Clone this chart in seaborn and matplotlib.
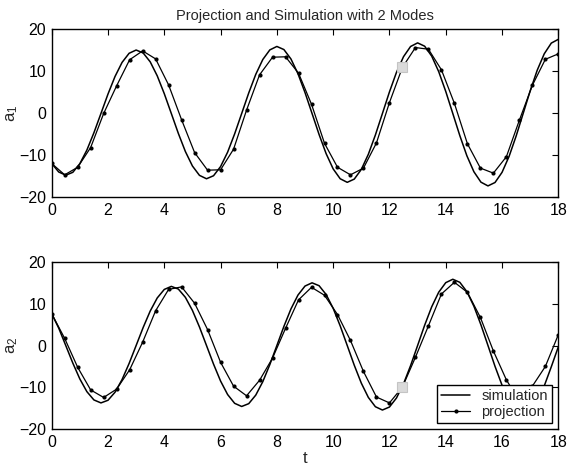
import numpy as np
import pandas as pd
import matplotlib
matplotlib.use("Agg")
import matplotlib.pyplot as plt
import seaborn as sns

# ---------------- data ----------------
t_sim = np.linspace(0, 18, 73)          # simulation sampling grid (0.25 step)
t_proj = np.linspace(0, 18, 40)         # projection sampling grid

sim_a1 = [-11.90, -13.93, -14.69, -14.01, -11.95, -8.71, -4.59, 0.00, 4.62, 8.81,
          12.16, 14.33, 15.11, 14.41, 12.30, 8.96, 4.72, 0.00, -4.75, -9.06,
          -12.50, -14.73, -15.54, -14.82, -12.64, -9.21, -4.85, 0.00, 4.88, 9.31,
          12.85, 15.14, 15.96, 15.22, 12.98, 9.46, 4.98, 0.00, -5.01, -9.56,
          -13.19, -15.54, -16.39, -15.62, -13.32, -9.71, -5.12, 0.00, 5.14, 9.81,
          13.53, 15.95, 16.81, 16.02, 13.67, 9.96, 5.25, 0.00, -5.27, -10.06,
          -13.87, -16.35, -17.24, -16.43, -14.01, -10.21, -5.38, 0.00, 5.40, 10.31,
          14.22, 16.76, 17.66]

proj_a1 = [-11.9, -14.6, -12.8, -8.1, 0.0, 6.6, 12.8, 14.9, 13.0, 6.8,
           -1.5, -9.3, -13.5, -13.4, -8.5, 0.8, 9.2, 13.4, 13.5, 9.6,
           2.2, -7.1, -12.8, -14.6, -13.0, -7.0, 2.6, 11.0, 15.7, 15.3,
           10.4, 2.4, -7.2, -13.0, -14.2, -10.3, -1.6, 6.7, 12.9, 14.2]

sim_a2 = [7.60, 4.15, 0.00, -4.18, -7.98, -11.01, -12.99, -13.70, -13.07, -11.15,
          -8.13, -4.29, 0.00, 4.31, 8.23, 11.36, 13.39, 14.12, 13.48, 11.50,
          8.38, 4.42, 0.00, -4.44, -8.48, -11.70, -13.80, -14.55, -13.88, -11.84,
          -8.63, -4.55, 0.00, 4.57, 8.73, 12.05, 14.20, 14.97, 14.28, 12.18,
          8.88, 4.68, 0.00, -4.71, -8.98, -12.39, -14.61, -15.40, -14.68, -12.52,
          -9.13, -4.81, 0.00, 4.84, 9.23, 12.73, 15.01, 15.82, 15.09, 12.87,
          9.38, 4.94, 0.00, -4.97, -9.48, -13.08, -15.41, -16.25, -15.49, -13.21,
          -9.63, -5.07, -0.30]

proj_a2 = [7.6, 1.7, -5.2, -10.6, -12.4, -10.4, -5.8, 0.8, 8.3, 13.4,
           14.0, 10.1, 3.8, -4.0, -9.7, -12.0, -8.3, -3.0, 4.1, 10.9,
           13.9, 12.0, 7.4, 1.2, -6.2, -12.3, -13.7, -9.9, -2.8, 4.7,
           12.3, 15.1, 12.7, 6.7, -1.3, -8.2, -13.3, -9.7, -5.0, 2.6]

marker_t = [12.44, 12.44]
marker_y = [11.0, -10.0]

x_ticks = [0, 2, 4, 6, 8, 10, 12, 14, 16, 18]
y_ticks = [-20, -10, 0, 10, 20]

title = "Projection and Simulation with 2 Modes"
labels = ["simulation", "projection"]

# ---------------- style ----------------
sns.set_style("white")
plt.rcParams["font.family"] = ["Liberation Sans", "DejaVu Sans"]
plt.rcParams["mathtext.fontset"] = "custom"
plt.rcParams["mathtext.rm"] = "Liberation Sans"

FS = 11.5

fig = plt.figure(figsize=(5.68, 4.68), dpi=100)
ax1 = fig.add_axes([0.091, 0.578, 0.892, 0.359])
ax2 = fig.add_axes([0.091, 0.0827, 0.892, 0.358])

panels = [(ax1, sim_a1, proj_a1, marker_y[0], r"$\mathregular{a_1}$"),
          (ax2, sim_a2, proj_a2, marker_y[1], r"$\mathregular{a_2}$")]

for i, (ax, sim, proj, my, ylab) in enumerate(panels):
    df_s = pd.DataFrame({"t": t_sim, "v": sim})
    df_p = pd.DataFrame({"t": t_proj, "v": proj})
    sns.lineplot(data=df_s, x="t", y="v", ax=ax, color="black", lw=1.1,
                 estimator=None, sort=False,
                 label=labels[0] if i == 1 else None, legend=(i == 1))
    sns.lineplot(data=df_p, x="t", y="v", ax=ax, color="black", lw=0.9,
                 marker="o", markersize=3.0, markeredgewidth=0,
                 estimator=None, sort=False,
                 label=labels[1] if i == 1 else None, legend=(i == 1))
    ax.plot([marker_t[i]], [my], marker="s", ms=7.5, mfc="#dadada",
            mec="#c4c4c4", mew=0.8, ls="none", zorder=5)

    ax.set_xlim(0, 18)
    ax.set_ylim(-20, 20)
    ax.set_xticks(x_ticks)
    ax.set_yticks(y_ticks)
    ax.tick_params(direction="in", top=True, right=True, length=4.5,
                   width=0.8, labelsize=FS, pad=4, colors="black")
    for sp in ax.spines.values():
        sp.set_visible(True)
        sp.set_color("black")
        sp.set_linewidth(1.0)
    ax.set_ylabel(ylab, fontsize=12)
    ax.yaxis.set_label_coords(-0.062, 0.5)
    ax.set_xlabel("")

ax1.set_title(title, fontsize=10.5, pad=7)
ax2.set_xlabel("t", fontsize=12, labelpad=1)

leg = ax2.legend(loc="lower right", fontsize=10.5, frameon=True, fancybox=False,
                 framealpha=1, edgecolor="black", handlelength=2.0,
                 handletextpad=0.75, labelspacing=0.1, borderpad=0.28,
                 borderaxespad=0.45)
leg.get_frame().set_linewidth(1.0)
leg.set_zorder(10)

fig.savefig("out.png", dpi=100)
